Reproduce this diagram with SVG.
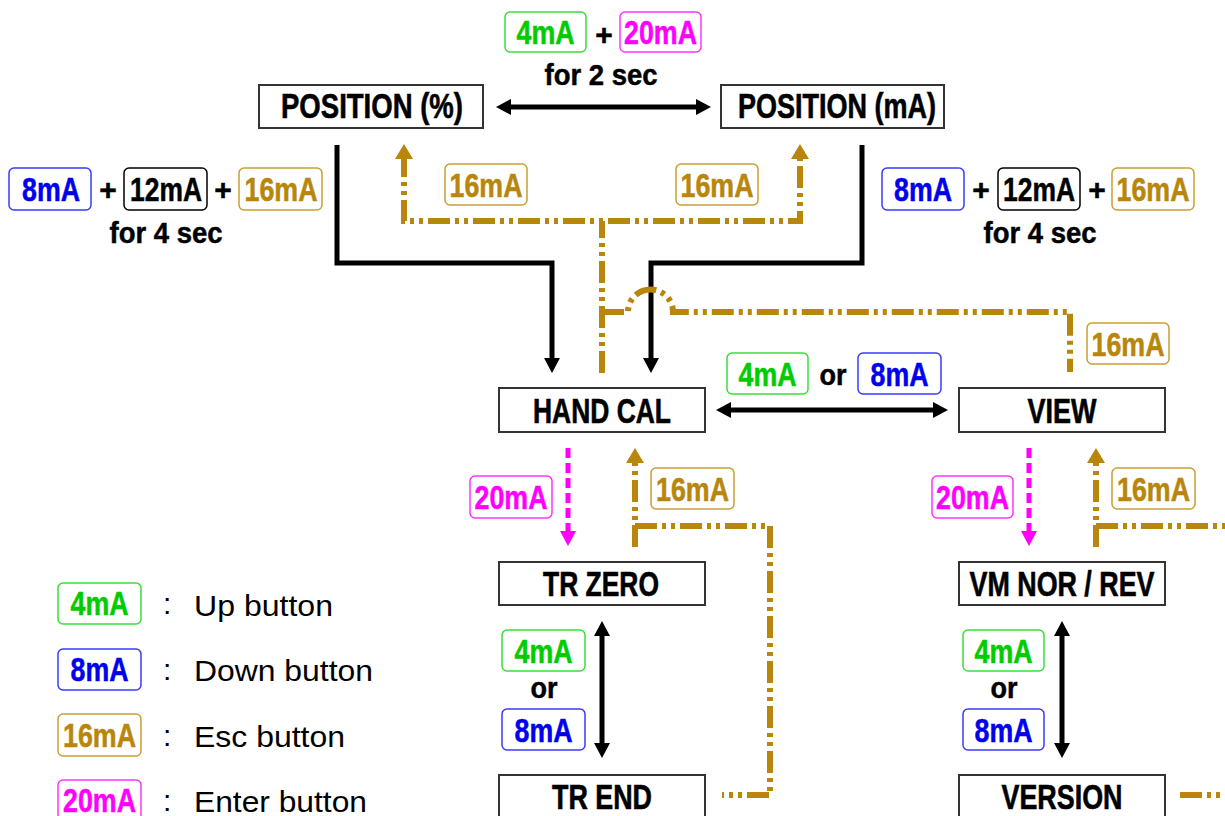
<svg xmlns="http://www.w3.org/2000/svg" width="1225" height="816" viewBox="0 0 1225 816">
<style>
.node rect{fill:#fff;stroke:#333;stroke-width:2}
.node text{font-family:"Liberation Sans",Arial,sans-serif;font-weight:bold;font-size:35px;fill:#000;stroke:#000;stroke-width:0.6;text-anchor:middle}
.lbl rect{fill:#fff;stroke-width:1.5}
.lbl text{font-family:"Liberation Sans",Arial,sans-serif;font-weight:bold;font-size:33px;stroke-width:0.5;text-anchor:middle}
.g rect{stroke:#3ade3a}.g text{fill:#00cc00;stroke:#00cc00}
.b rect{stroke:#3a3aff}.b text{fill:#0000ee;stroke:#0000ee}
.o rect{stroke:#c9a030}.o text{fill:#b8860b;stroke:#b8860b}
.m rect{stroke:#ff33ff}.m text{fill:#ff00ff;stroke:#ff00ff}
.k rect{stroke:#000}.k text{fill:#000;stroke:#000}
.t{font-family:"Liberation Sans",Arial,sans-serif;font-weight:bold;font-size:30px;fill:#000;stroke:#000;stroke-width:0.5;text-anchor:middle}
.plus{font-family:"Liberation Sans",Arial,sans-serif;font-weight:bold;font-size:30px;fill:#000;stroke:#000;stroke-width:0.5;text-anchor:middle}
.leg{font-family:"Liberation Sans",Arial,sans-serif;font-size:30px;fill:#000}
.blk{fill:none;stroke:#000;stroke-width:5}
.esc{fill:none;stroke:#b8860b;stroke-width:6;stroke-dasharray:22 5 4 5 4 5}
.ent{fill:none;stroke:#ff00ff;stroke-width:5;stroke-dasharray:10 5}
</style>
<defs>
<marker id="ab" markerUnits="userSpaceOnUse" markerWidth="16" markerHeight="16" refX="4" refY="8" orient="auto-start-reverse" viewBox="0 0 16 16"><path d="M0,0 L15,8 L0,16 z" fill="#000"/></marker>
<marker id="ao" markerUnits="userSpaceOnUse" markerWidth="16" markerHeight="18" refX="4" refY="9" orient="auto-start-reverse" viewBox="0 0 16 18"><path d="M0,0 L15,9 L0,18 z" fill="#b8860b"/></marker>
<marker id="am" markerUnits="userSpaceOnUse" markerWidth="16" markerHeight="16" refX="4" refY="8" orient="auto" viewBox="0 0 16 16"><path d="M0,0 L15,8 L0,16 z" fill="#ff00ff"/></marker>
</defs>
<rect width="1225" height="816" fill="#fff"/>

<g id="connectors">
<path class="blk" d="M337,145 V263 H552 V362" marker-end="url(#ab)"/>
<path class="blk" d="M862,145 V263 H651 V362" marker-end="url(#ab)"/>
<path class="blk" d="M507,107 H700" marker-start="url(#ab)" marker-end="url(#ab)"/>
<path class="blk" d="M727,410 H937" marker-start="url(#ab)" marker-end="url(#ab)"/>
<path class="blk" d="M602,632 V747" marker-start="url(#ab)" marker-end="url(#ab)"/>
<path class="blk" d="M1062,632 V747" marker-start="url(#ab)" marker-end="url(#ab)"/>
<path class="esc" d="M404,155 V221 H800 V155" marker-start="url(#ao)" marker-end="url(#ao)"/>
<path class="esc" d="M602,373 V221"/>
<path class="esc" d="M602,312 H628 A22.5,22.5 0 0 1 673,312 H1070 V372"/>
<path class="esc" d="M635,547 V459" marker-end="url(#ao)"/>
<path class="esc" d="M635,526 H770 V795 H722"/>
<path class="esc" d="M1096,547 V459" marker-end="url(#ao)"/>
<path class="esc" d="M1096,526 H1230"/>
<path class="esc" d="M1180,795 H1230"/>
<path class="ent" d="M568,448 V535" marker-end="url(#am)"/>
<path class="ent" d="M1029,448 V535" marker-end="url(#am)"/>
</g>

<g id="node-position-pct" class="node"><rect x="259" y="85" width="224" height="43"/><text x="372" y="118" textLength="182" lengthAdjust="spacingAndGlyphs">POSITION (%)</text></g>
<g id="node-position-ma" class="node"><rect x="721" y="85" width="223" height="43"/><text x="837" y="118" textLength="198" lengthAdjust="spacingAndGlyphs">POSITION (mA)</text></g>
<g id="node-hand-cal" class="node"><rect x="499" y="388" width="206" height="44"/><text x="602" y="423" textLength="138" lengthAdjust="spacingAndGlyphs">HAND CAL</text></g>
<g id="node-view" class="node"><rect x="959" y="388" width="206" height="44"/><text x="1062" y="423" textLength="69" lengthAdjust="spacingAndGlyphs">VIEW</text></g>
<g id="node-tr-zero" class="node"><rect x="499" y="562" width="206" height="43"/><text x="601" y="596" textLength="116" lengthAdjust="spacingAndGlyphs">TR ZERO</text></g>
<g id="node-vm" class="node"><rect x="959" y="562" width="206" height="43"/><text x="1062" y="596" textLength="185" lengthAdjust="spacingAndGlyphs">VM NOR / REV</text></g>
<g id="node-tr-end" class="node"><rect x="499" y="775" width="206" height="50"/><text x="602" y="809" textLength="100" lengthAdjust="spacingAndGlyphs">TR END</text></g>
<g id="node-version" class="node"><rect x="959" y="775" width="206" height="50"/><text x="1062" y="809" textLength="121" lengthAdjust="spacingAndGlyphs">VERSION</text></g>

<g id="labels">
<g class="lbl g"><rect x="505" y="12" width="81" height="40" rx="5"/><text x="545.5" y="44" textLength="58" lengthAdjust="spacingAndGlyphs">4mA</text></g>
<text class="plus" x="604" y="45">+</text>
<g class="lbl m"><rect x="620" y="12" width="81" height="40" rx="5"/><text x="660.5" y="44" textLength="73" lengthAdjust="spacingAndGlyphs">20mA</text></g>
<text class="t" x="601" y="85" textLength="113" lengthAdjust="spacingAndGlyphs">for 2 sec</text>

<g class="lbl b"><rect x="9" y="168" width="82" height="42" rx="5"/><text x="51" y="201" textLength="58" lengthAdjust="spacingAndGlyphs">8mA</text></g>
<text class="plus" x="108" y="200">+</text>
<g class="lbl k"><rect x="124" y="168" width="83" height="42" rx="5"/><text x="166" y="201" textLength="72" lengthAdjust="spacingAndGlyphs">12mA</text></g>
<text class="plus" x="223" y="200">+</text>
<g class="lbl o"><rect x="239" y="168" width="83" height="42" rx="5"/><text x="281" y="201" textLength="73" lengthAdjust="spacingAndGlyphs">16mA</text></g>
<text class="t" x="166" y="243" textLength="113" lengthAdjust="spacingAndGlyphs">for 4 sec</text>

<g class="lbl b"><rect x="882" y="168" width="82" height="42" rx="5"/><text x="923" y="201" textLength="58" lengthAdjust="spacingAndGlyphs">8mA</text></g>
<text class="plus" x="981" y="200">+</text>
<g class="lbl k"><rect x="998" y="168" width="82" height="42" rx="5"/><text x="1039" y="201" textLength="72" lengthAdjust="spacingAndGlyphs">12mA</text></g>
<text class="plus" x="1097" y="200">+</text>
<g class="lbl o"><rect x="1112" y="168" width="82" height="42" rx="5"/><text x="1153" y="201" textLength="73" lengthAdjust="spacingAndGlyphs">16mA</text></g>
<text class="t" x="1040" y="243" textLength="113" lengthAdjust="spacingAndGlyphs">for 4 sec</text>

<g class="lbl o"><rect x="445" y="164" width="82" height="41" rx="5"/><text x="486" y="197" textLength="73" lengthAdjust="spacingAndGlyphs">16mA</text></g>
<g class="lbl o"><rect x="676" y="164" width="82" height="41" rx="5"/><text x="717" y="197" textLength="73" lengthAdjust="spacingAndGlyphs">16mA</text></g>
<g class="lbl o"><rect x="1087" y="323" width="82" height="41" rx="5"/><text x="1128" y="356" textLength="73" lengthAdjust="spacingAndGlyphs">16mA</text></g>

<g class="lbl g"><rect x="727" y="353" width="81" height="41" rx="5"/><text x="767.5" y="386" textLength="58" lengthAdjust="spacingAndGlyphs">4mA</text></g>
<text class="t" x="833" y="385" textLength="27" lengthAdjust="spacingAndGlyphs">or</text>
<g class="lbl b"><rect x="858" y="353" width="83" height="41" rx="5"/><text x="899.5" y="386" textLength="58" lengthAdjust="spacingAndGlyphs">8mA</text></g>

<g class="lbl m"><rect x="470" y="476" width="82" height="42" rx="5"/><text x="511" y="509" textLength="73" lengthAdjust="spacingAndGlyphs">20mA</text></g>
<g class="lbl m"><rect x="932" y="476" width="81" height="42" rx="5"/><text x="972.5" y="509" textLength="73" lengthAdjust="spacingAndGlyphs">20mA</text></g>
<g class="lbl o"><rect x="651" y="468" width="83" height="41" rx="5"/><text x="692.5" y="501" textLength="73" lengthAdjust="spacingAndGlyphs">16mA</text></g>
<g class="lbl o"><rect x="1112" y="468" width="83" height="41" rx="5"/><text x="1153.5" y="501" textLength="73" lengthAdjust="spacingAndGlyphs">16mA</text></g>

<g class="lbl g"><rect x="502" y="630" width="83" height="41" rx="5"/><text x="543.5" y="663" textLength="58" lengthAdjust="spacingAndGlyphs">4mA</text></g>
<text class="t" x="544" y="698" textLength="27" lengthAdjust="spacingAndGlyphs">or</text>
<g class="lbl b"><rect x="502" y="709" width="83" height="41" rx="5"/><text x="543.5" y="742" textLength="58" lengthAdjust="spacingAndGlyphs">8mA</text></g>

<g class="lbl g"><rect x="963" y="630" width="81" height="41" rx="5"/><text x="1003.5" y="663" textLength="58" lengthAdjust="spacingAndGlyphs">4mA</text></g>
<text class="t" x="1004" y="698" textLength="27" lengthAdjust="spacingAndGlyphs">or</text>
<g class="lbl b"><rect x="963" y="709" width="81" height="41" rx="5"/><text x="1003.5" y="742" textLength="58" lengthAdjust="spacingAndGlyphs">8mA</text></g>
</g>

<g id="legend">
<g class="lbl g"><rect x="58" y="583" width="83" height="41" rx="5"/><text x="99.5" y="615" textLength="58" lengthAdjust="spacingAndGlyphs">4mA</text></g>
<g class="lbl b"><rect x="58" y="649" width="83" height="41" rx="5"/><text x="99.5" y="681" textLength="58" lengthAdjust="spacingAndGlyphs">8mA</text></g>
<g class="lbl o"><rect x="58" y="714" width="83" height="42" rx="5"/><text x="99.5" y="747" textLength="73" lengthAdjust="spacingAndGlyphs">16mA</text></g>
<g class="lbl m"><rect x="58" y="780" width="83" height="42" rx="5"/><text x="99.5" y="812" textLength="73" lengthAdjust="spacingAndGlyphs">20mA</text></g>
<text class="leg" x="163" y="614">:</text>
<text class="leg" x="163" y="680">:</text>
<text class="leg" x="163" y="746">:</text>
<text class="leg" x="163" y="811">:</text>
<text class="leg" x="194" y="616" textLength="139" lengthAdjust="spacingAndGlyphs">Up button</text>
<text class="leg" x="194" y="681" textLength="179" lengthAdjust="spacingAndGlyphs">Down button</text>
<text class="leg" x="194" y="747" textLength="151" lengthAdjust="spacingAndGlyphs">Esc button</text>
<text class="leg" x="194" y="812" textLength="173" lengthAdjust="spacingAndGlyphs">Enter button</text>
</g>
</svg>
